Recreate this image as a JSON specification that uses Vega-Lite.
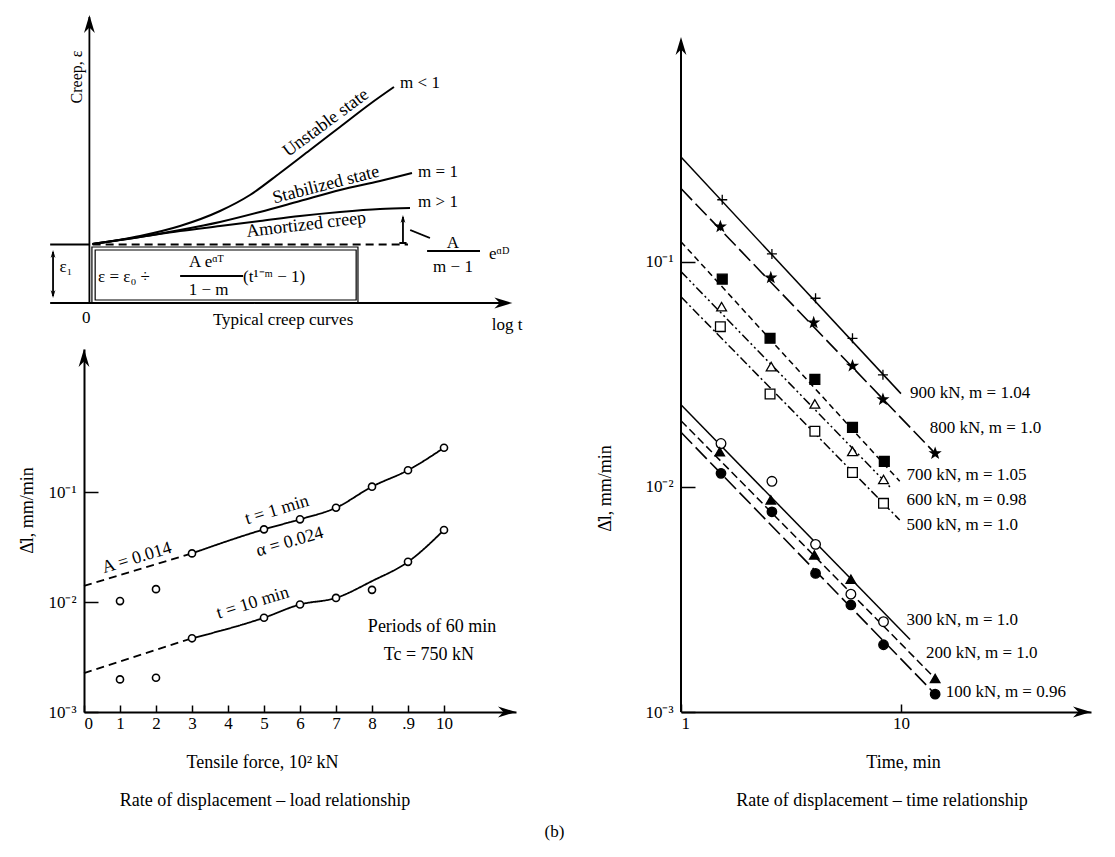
{
"$schema": "https://vega.github.io/schema/vega-lite/v6.json",
"padding": {"left": 18, "top": 5, "right": 5, "bottom": 5},
"background": "white",
"config": {
  "view": {"stroke": null},
  "font": "Liberation Serif",
  "axis": {"grid": false, "domainColor": "black", "domainWidth": 2, "tickColor": "black", "tickWidth": 1.5, "labelColor": "black", "labelFont": "Liberation Serif", "labelFontSize": 17, "titleFont": "Liberation Serif", "titleFontSize": 18, "titleFontWeight": "normal", "titleColor": "black"},
  "text": {"font": "Liberation Serif", "fontSize": 17, "color": "black"},
  "title": {"font": "Liberation Serif", "fontSize": 18, "fontWeight": "normal", "color": "black"}
},
"datasets": {
  "tl_seg": [
    {"x": 0.15, "y": 3.6, "x2": 0.15, "y2": 32.2, "s": "solid"},
    {"x": -0.94, "y": 3.6, "x2": 11.7, "y2": 3.6, "s": "solid"},
    {"x": -0.94, "y": 9.45, "x2": 0.15, "y2": 9.45, "s": "solid"},
    {"x": 0.24, "y": 9.45, "x2": 9.0, "y2": 9.45, "s": "dash"},
    {"x": -0.86, "y": 4.3, "x2": -0.86, "y2": 8.7, "s": "solid"},
    {"x": 9.06, "y": 10.9, "x2": 9.61, "y2": 10.1, "s": "solid"},
    {"x": 8.86, "y": 12.2, "x2": 8.86, "y2": 9.6, "s": "solid"},
    {"x": 8.76, "y": 9.6, "x2": 8.96, "y2": 9.6, "s": "solid"},
    {"x": 2.67, "y": 6.3, "x2": 4.42, "y2": 6.3, "s": "solid"},
    {"x": 9.53, "y": 8.8, "x2": 11.0, "y2": 8.8, "s": "solid"}
  ],
  "tl_box": [
    {"x": 0.22, "x2": 7.61, "y": 9.2, "y2": 3.6},
    {"x": 0.31, "x2": 7.56, "y": 8.9, "y2": 3.9}
  ],
  "tl_curve": [
    {"c": "u", "x": 0.236, "y": 9.5}, {"c": "u", "x": 1.556, "y": 10.3}, {"c": "u", "x": 2.667, "y": 11.3}, {"c": "u", "x": 3.778, "y": 12.8}, {"c": "u", "x": 4.611, "y": 14.4}, {"c": "u", "x": 5.444, "y": 16.6}, {"c": "u", "x": 6.278, "y": 18.9}, {"c": "u", "x": 7.111, "y": 21.2}, {"c": "u", "x": 7.944, "y": 23.5}, {"c": "u", "x": 8.611, "y": 25.2},
    {"c": "s", "x": 0.236, "y": 9.5}, {"c": "s", "x": 1.556, "y": 10.2}, {"c": "s", "x": 2.667, "y": 10.9}, {"c": "s", "x": 3.778, "y": 11.7}, {"c": "s", "x": 4.889, "y": 12.7}, {"c": "s", "x": 6.0, "y": 13.8}, {"c": "s", "x": 7.111, "y": 14.9}, {"c": "s", "x": 8.222, "y": 15.8}, {"c": "s", "x": 9.111, "y": 16.6},
    {"c": "a", "x": 0.236, "y": 9.5}, {"c": "a", "x": 1.556, "y": 10.2}, {"c": "a", "x": 2.667, "y": 10.8}, {"c": "a", "x": 3.778, "y": 11.3}, {"c": "a", "x": 4.889, "y": 11.8}, {"c": "a", "x": 6.0, "y": 12.3}, {"c": "a", "x": 7.111, "y": 12.7}, {"c": "a", "x": 8.222, "y": 13.0}, {"c": "a", "x": 9.056, "y": 13.1}
  ],
  "tl_text_c": [
    {"x": 5.53, "y": 1.9, "label": "Typical creep curves"},
    {"x": 0.06, "y": 2.1, "label": "0"},
    {"x": -0.5, "y": 7.2, "label": "ε₁"},
    {"x": 3.4, "y": 7.7, "label": "A eᵅᵀ"},
    {"x": 3.46, "y": 4.9, "label": "1 − m"},
    {"x": 10.25, "y": 9.6, "label": "A"},
    {"x": 10.25, "y": 7.2, "label": "m − 1"},
    {"x": 11.75, "y": 1.4, "label": "log t"}
  ],
  "tl_text_l": [
    {"x": 8.78, "y": 25.6, "label": "m < 1"},
    {"x": 9.28, "y": 16.7, "label": "m = 1"},
    {"x": 9.28, "y": 13.7, "label": "m > 1"},
    {"x": 0.39, "y": 6.2, "label": "ε = ε₀ ÷"},
    {"x": 4.42, "y": 6.2, "label": "(t¹⁻ᵐ − 1)"},
    {"x": 11.25, "y": 8.5, "label": "eᵅᴰ"}
  ],
  "bl_line": [
    {"part": "d1", "style": "dash", "F": 0, "R": 0.014}, {"part": "d1", "style": "dash", "F": 3, "R": 0.0277},
    {"part": "s1", "style": "solid", "F": 3, "R": 0.0277}, {"part": "s1", "style": "solid", "F": 5, "R": 0.0458}, {"part": "s1", "style": "solid", "F": 6, "R": 0.0565}, {"part": "s1", "style": "solid", "F": 7, "R": 0.072}, {"part": "s1", "style": "solid", "F": 8, "R": 0.112}, {"part": "s1", "style": "solid", "F": 9, "R": 0.158}, {"part": "s1", "style": "solid", "F": 10, "R": 0.253},
    {"part": "d10", "style": "dash", "F": 0, "R": 0.00226}, {"part": "d10", "style": "dash", "F": 3, "R": 0.00468},
    {"part": "s10", "style": "solid", "F": 3, "R": 0.00468}, {"part": "s10", "style": "solid", "F": 5, "R": 0.0072}, {"part": "s10", "style": "solid", "F": 6, "R": 0.0095}, {"part": "s10", "style": "solid", "F": 7, "R": 0.0109}, {"part": "s10", "style": "solid", "F": 8, "R": 0.0155}, {"part": "s10", "style": "solid", "F": 9, "R": 0.0232}, {"part": "s10", "style": "solid", "F": 10, "R": 0.0452}
  ],
  "bl_pts": [
    {"F": 1, "R": 0.0102}, {"F": 2, "R": 0.0131}, {"F": 3, "R": 0.0277}, {"F": 5, "R": 0.0458}, {"F": 6, "R": 0.0565}, {"F": 7, "R": 0.072}, {"F": 8, "R": 0.112}, {"F": 9, "R": 0.158}, {"F": 10, "R": 0.253},
    {"F": 1, "R": 0.00198}, {"F": 2, "R": 0.00205}, {"F": 3, "R": 0.00468}, {"F": 5, "R": 0.0072}, {"F": 6, "R": 0.0095}, {"F": 7, "R": 0.0109}, {"F": 8, "R": 0.0129}, {"F": 9, "R": 0.0232}, {"F": 10, "R": 0.0452}
  ],
  "r_line": [
    {"series": "900", "t": 1, "v": 0.293}, {"series": "900", "t": 10, "v": 0.026},
    {"series": "800", "t": 1, "v": 0.212}, {"series": "800", "t": 14.3, "v": 0.0141},
    {"series": "700", "t": 1, "v": 0.123}, {"series": "700", "t": 9.87, "v": 0.0106},
    {"series": "600", "t": 1, "v": 0.0906}, {"series": "600", "t": 9.1, "v": 0.0098},
    {"series": "500", "t": 1, "v": 0.070}, {"series": "500", "t": 9.87, "v": 0.00713},
    {"series": "300", "t": 1, "v": 0.0232}, {"series": "300", "t": 11, "v": 0.0021},
    {"series": "200", "t": 1, "v": 0.0197}, {"series": "200", "t": 14.3, "v": 0.00141},
    {"series": "100", "t": 1, "v": 0.0175}, {"series": "100", "t": 14.3, "v": 0.0012}
  ],
  "r_pts": [
    {"series": "900", "t": 1.54, "v": 0.189}, {"series": "900", "t": 2.59, "v": 0.1086}, {"series": "900", "t": 4.09, "v": 0.069}, {"series": "900", "t": 6.02, "v": 0.0458}, {"series": "900", "t": 8.28, "v": 0.0315},
    {"series": "800", "t": 1.51, "v": 0.1436}, {"series": "800", "t": 2.56, "v": 0.0851}, {"series": "800", "t": 4.01, "v": 0.0537}, {"series": "800", "t": 6.02, "v": 0.0345}, {"series": "800", "t": 8.28, "v": 0.0245}, {"series": "800", "t": 14.3, "v": 0.0141},
    {"series": "700", "t": 1.54, "v": 0.0839}, {"series": "700", "t": 2.54, "v": 0.0458}, {"series": "700", "t": 4.06, "v": 0.0301}, {"series": "700", "t": 6.02, "v": 0.0184}, {"series": "700", "t": 8.4, "v": 0.013},
    {"series": "600", "t": 1.53, "v": 0.0633}, {"series": "600", "t": 2.57, "v": 0.0343}, {"series": "600", "t": 4.06, "v": 0.0234}, {"series": "600", "t": 6.02, "v": 0.0144}, {"series": "600", "t": 8.33, "v": 0.0108},
    {"series": "500", "t": 1.51, "v": 0.0516}, {"series": "500", "t": 2.54, "v": 0.0259}, {"series": "500", "t": 4.06, "v": 0.0177}, {"series": "500", "t": 6.02, "v": 0.0116}, {"series": "500", "t": 8.33, "v": 0.00846},
    {"series": "300", "t": 1.52, "v": 0.0156}, {"series": "300", "t": 2.59, "v": 0.0106}, {"series": "300", "t": 4.09, "v": 0.00556}, {"series": "300", "t": 5.92, "v": 0.00334}, {"series": "300", "t": 8.33, "v": 0.00252},
    {"series": "200", "t": 1.5, "v": 0.01436}, {"series": "200", "t": 2.56, "v": 0.00876}, {"series": "200", "t": 4.04, "v": 0.00499}, {"series": "200", "t": 5.92, "v": 0.00389}, {"series": "200", "t": 14.3, "v": 0.00141},
    {"series": "100", "t": 1.52, "v": 0.0115}, {"series": "100", "t": 2.59, "v": 0.00776}, {"series": "100", "t": 4.09, "v": 0.00413}, {"series": "100", "t": 5.92, "v": 0.00299}, {"series": "100", "t": 8.33, "v": 0.00199}, {"series": "100", "t": 14.3, "v": 0.0012}
  ],
  "r_lab": [
    {"t": 11.0, "v": 0.0261, "label": "900 kN, m = 1.04"},
    {"t": 13.5, "v": 0.0183, "label": "800 kN, m = 1.0"},
    {"t": 10.6, "v": 0.0113, "label": "700 kN, m = 1.05"},
    {"t": 10.6, "v": 0.00876, "label": "600 kN, m = 0.98"},
    {"t": 10.6, "v": 0.00678, "label": "500 kN, m = 1.0"},
    {"t": 10.6, "v": 0.00256, "label": "300 kN, m = 1.0"},
    {"t": 13.0, "v": 0.00183, "label": "200 kN, m = 1.0"},
    {"t": 16.0, "v": 0.00123, "label": "100 kN, m = 0.96"}
  ]
},
"title": {"text": "(b)", "orient": "bottom", "anchor": "middle", "offset": 14, "fontSize": 17},
"spacing": 73,
"hconcat": [
  {
    "bounds": "flush",
    "spacing": 10,
    "vconcat": [
      {
        "width": 432, "height": 334,
        "encoding": {
          "x": {"field": "x", "type": "quantitative", "scale": {"domain": [0, 12]}, "axis": null},
          "y": {"field": "y", "type": "quantitative", "scale": {"domain": [0, 33.4]}, "axis": null}
        },
        "layer": [
          {"data": {"name": "tl_seg"}, "mark": {"type": "rule", "color": "black", "strokeWidth": 1.8},
           "encoding": {"x2": {"field": "x2"}, "y2": {"field": "y2"},
             "strokeDash": {"field": "s", "type": "nominal", "scale": {"domain": ["solid", "dash"], "range": [[1, 0], [8, 5]]}, "legend": null}}},
          {"data": {"name": "tl_box"}, "mark": {"type": "rect", "fillOpacity": 0, "stroke": "black", "strokeWidth": 1.2},
           "encoding": {"x2": {"field": "x2"}, "y2": {"field": "y2"}}},
          {"data": {"name": "tl_curve"}, "mark": {"type": "line", "interpolate": "monotone", "color": "black", "strokeWidth": 2},
           "encoding": {"detail": {"field": "c", "type": "nominal"}}},
          {"data": {"values": [{"x": 0.15, "y": 32.4}]}, "mark": {"type": "point", "filled": true, "color": "black", "opacity": 1, "size": 324, "shape": "M0,0L-0.6,2L0,1.4L0.6,2Z"}},
          {"data": {"values": [{"x": 11.9, "y": 3.6}]}, "mark": {"type": "point", "filled": true, "color": "black", "opacity": 1, "size": 324, "shape": "M0,0L-2,-0.6L-1.4,0L-2,0.6Z"}},
          {"data": {"values": [{"x": -0.86, "y": 8.9}, {"x": 8.86, "y": 12.4}]}, "mark": {"type": "point", "filled": true, "color": "black", "opacity": 1, "size": 64, "shape": "M0,0L-0.6,2L0,1.4L0.6,2Z"}},
          {"data": {"values": [{"x": -0.86, "y": 4.1}]}, "mark": {"type": "point", "filled": true, "color": "black", "opacity": 1, "size": 64, "shape": "M0,0L-0.6,-2L0,-1.4L0.6,-2Z"}},
          {"data": {"name": "tl_text_c"}, "mark": {"type": "text", "align": "center", "baseline": "middle", "fontSize": 17}, "encoding": {"text": {"field": "label"}}},
          {"data": {"name": "tl_text_l"}, "mark": {"type": "text", "align": "left", "baseline": "middle", "fontSize": 17}, "encoding": {"text": {"field": "label"}}},
          {"data": {"values": [{"x": 6.72, "y": 21.6, "label": "Unstable state"}]}, "mark": {"type": "text", "align": "center", "baseline": "middle", "fontSize": 18, "angle": 323.4}, "encoding": {"text": {"field": "label"}}},
          {"data": {"values": [{"x": 6.72, "y": 15.4, "label": "Stabilized state"}]}, "mark": {"type": "text", "align": "center", "baseline": "middle", "fontSize": 18, "angle": 345.6}, "encoding": {"text": {"field": "label"}}},
          {"data": {"values": [{"x": 6.17, "y": 11.4, "label": "Amortized creep"}]}, "mark": {"type": "text", "align": "center", "baseline": "middle", "fontSize": 18, "angle": 353.3}, "encoding": {"text": {"field": "label"}}},
          {"data": {"values": [{"x": -0.19, "y": 26.2, "label": "Creep, ε"}]}, "mark": {"type": "text", "align": "center", "baseline": "middle", "fontSize": 16, "angle": 270}, "encoding": {"text": {"field": "label"}}}
        ]
      },
      {
        "width": 432, "height": 363,
        "title": {"text": "Rate of displacement – load relationship", "orient": "bottom", "offset": 21, "dx": -35, "fontSize": 18},
        "encoding": {
          "x": {"field": "F", "type": "quantitative", "scale": {"domain": [0, 12]},
            "axis": {"values": [0, 1, 2, 3, 4, 5, 6, 7, 8, 9, 10], "labelExpr": "datum.value == 9 ? '.9' : datum.label", "tickSize": -7, "labelPadding": 10, "title": "Tensile force, 10² kN", "titleX": 178, "titlePadding": 22}},
          "y": {"field": "R", "type": "quantitative", "scale": {"type": "log", "domain": [0.001, 2.0]},
            "axis": {"values": [0.001, 0.01, 0.1], "labelExpr": "datum.value < 0.005 ? '10⁻³' : datum.value < 0.05 ? '10⁻²' : '10⁻¹'", "tickSize": -14, "labelPadding": 22, "title": "Δ̇l, mm/min", "titleX": -48, "titleY": 161}}
        },
        "layer": [
          {"data": {"name": "bl_line"}, "mark": {"type": "line", "interpolate": "monotone", "color": "black", "strokeWidth": 1.8},
           "encoding": {"detail": {"field": "part", "type": "nominal"},
             "strokeDash": {"field": "style", "type": "nominal", "scale": {"domain": ["solid", "dash"], "range": [[1, 0], [8, 5]]}, "legend": null}}},
          {"data": {"name": "bl_pts"}, "mark": {"type": "point", "shape": "circle", "filled": false, "fill": "white", "fillOpacity": 1, "stroke": "black", "strokeWidth": 1.6, "opacity": 1, "size": 50}},
          {"data": {"values": [{"F": 0, "R": 2.0}]}, "mark": {"type": "point", "filled": true, "color": "black", "opacity": 1, "size": 324, "shape": "M0,0L-0.6,2L0,1.4L0.6,2Z"}},
          {"data": {"values": [{"F": 12, "R": 0.001}]}, "mark": {"type": "point", "filled": true, "color": "black", "opacity": 1, "size": 324, "shape": "M0,0L-2,-0.6L-1.4,0L-2,0.6Z"}},
          {"data": {"values": [{"F": 1.47, "R": 0.0251, "label": "A = 0.014"}, {"F": 5.36, "R": 0.0686, "label": "t = 1 min"}, {"F": 4.69, "R": 0.0098, "label": "t = 10 min"}]}, "mark": {"type": "text", "align": "center", "baseline": "middle", "fontSize": 18, "angle": 343}, "encoding": {"text": {"field": "label"}}},
          {"data": {"values": [{"F": 5.72, "R": 0.0351, "label": "α = 0.024"}]}, "mark": {"type": "text", "align": "center", "baseline": "middle", "fontSize": 18, "angle": 344}, "encoding": {"text": {"field": "label"}}},
          {"data": {"values": [{"F": 9.67, "R": 0.00593, "label": "Periods of 60 min"}, {"F": 9.58, "R": 0.0033, "label": "Tc = 750 kN"}]}, "mark": {"type": "text", "align": "center", "baseline": "middle", "fontSize": 18}, "encoding": {"text": {"field": "label"}}}
        ]
      }
    ]
  },
  {
    "width": 410, "height": 707,
    "title": {"text": "Rate of displacement – time relationship", "orient": "bottom", "offset": 21, "dx": -4, "fontSize": 18},
    "encoding": {
      "x": {"field": "t", "type": "quantitative", "scale": {"type": "log", "domain": [1, 73.1]},
        "axis": {"values": [1, 10], "format": "d", "tickSize": -8, "labelPadding": 11, "title": "Time, min", "titleX": 222, "titlePadding": 22}},
      "y": {"field": "v", "type": "quantitative", "scale": {"type": "log", "domain": [0.001, 1.387]},
        "axis": {"values": [0.001, 0.01, 0.1], "labelExpr": "datum.value < 0.005 ? '10⁻³' : datum.value < 0.05 ? '10⁻²' : '10⁻¹'", "domain": false, "tickSize": -14, "labelPadding": 22, "title": "Δ̇l, mm/min", "titleX": -67, "titleY": 483}}
    },
    "layer": [
      {"data": {"values": [{"t": 1, "v": 0.001, "v2": 0.97}]}, "mark": {"type": "rule", "color": "black", "strokeWidth": 2}, "encoding": {"y2": {"field": "v2"}}},
      {"data": {"name": "r_line"}, "transform": [{"filter": {"field": "series", "oneOf": ["900", "300"]}}], "mark": {"type": "line", "color": "black", "strokeWidth": 1.5}, "encoding": {"detail": {"field": "series", "type": "nominal"}}},
      {"data": {"name": "r_line"}, "transform": [{"filter": {"field": "series", "oneOf": ["800", "100"]}}], "mark": {"type": "line", "color": "black", "strokeWidth": 1.6, "strokeDash": [16, 5]}, "encoding": {"detail": {"field": "series", "type": "nominal"}}},
      {"data": {"name": "r_line"}, "transform": [{"filter": {"field": "series", "oneOf": ["700"]}}], "mark": {"type": "line", "color": "black", "strokeWidth": 1.5, "strokeDash": [6, 4]}, "encoding": {"detail": {"field": "series", "type": "nominal"}}},
      {"data": {"name": "r_line"}, "transform": [{"filter": {"field": "series", "oneOf": ["600"]}}], "mark": {"type": "line", "color": "black", "strokeWidth": 1.5, "strokeDash": [9, 3, 2, 3, 2, 3]}, "encoding": {"detail": {"field": "series", "type": "nominal"}}},
      {"data": {"name": "r_line"}, "transform": [{"filter": {"field": "series", "oneOf": ["500"]}}], "mark": {"type": "line", "color": "black", "strokeWidth": 1.5, "strokeDash": [9, 3, 2, 3]}, "encoding": {"detail": {"field": "series", "type": "nominal"}}},
      {"data": {"name": "r_line"}, "transform": [{"filter": {"field": "series", "oneOf": ["200"]}}], "mark": {"type": "line", "color": "black", "strokeWidth": 1.5, "strokeDash": [8, 4]}, "encoding": {"detail": {"field": "series", "type": "nominal"}}},
      {"data": {"name": "r_pts"}, "mark": {"type": "point", "filled": true, "stroke": "black", "strokeWidth": 1.3, "opacity": 1},
       "encoding": {
         "shape": {"field": "series", "type": "nominal", "scale": {"domain": ["900", "800", "700", "600", "500", "300", "200", "100"], "range": ["M-1,0L1,0M0,-1L0,1", "M0,-1L0.235,-0.324L0.951,-0.309L0.38,0.124L0.588,0.809L0,0.4L-0.588,0.809L-0.38,0.124L-0.951,-0.309L-0.235,-0.324Z", "square", "triangle-up", "square", "circle", "triangle-up", "circle"]}, "legend": null},
         "fill": {"field": "series", "type": "nominal", "scale": {"domain": ["900", "800", "700", "600", "500", "300", "200", "100"], "range": ["black", "black", "black", "white", "white", "white", "black", "black"]}, "legend": null},
         "size": {"field": "series", "type": "nominal", "scale": {"domain": ["900", "800", "700", "600", "500", "300", "200", "100"], "range": [100, 90, 45, 55, 45, 50, 55, 50]}, "legend": null}
       }},
      {"data": {"values": [{"t": 1, "v": 1.0}]}, "mark": {"type": "point", "filled": true, "color": "black", "opacity": 1, "size": 324, "shape": "M0,0L-0.6,2L0,1.4L0.6,2Z"}},
      {"data": {"values": [{"t": 73.1, "v": 0.001}]}, "mark": {"type": "point", "filled": true, "color": "black", "opacity": 1, "size": 324, "shape": "M0,0L-2,-0.6L-1.4,0L-2,0.6Z"}},
      {"data": {"name": "r_lab"}, "mark": {"type": "text", "align": "left", "baseline": "middle", "fontSize": 17}, "encoding": {"text": {"field": "label"}}}
    ]
  }
]
}
